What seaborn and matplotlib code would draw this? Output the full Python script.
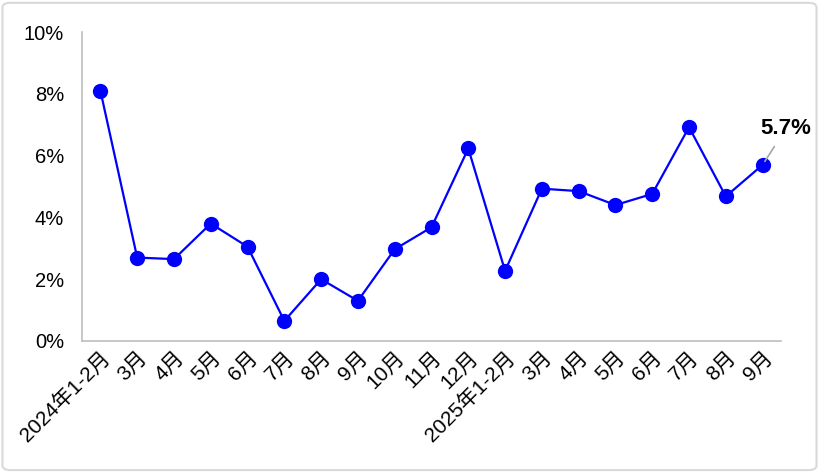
import numpy as np
import pandas as pd
import seaborn as sns
import matplotlib.pyplot as plt
from matplotlib.patches import FancyBboxPatch

months = ["2024年1-2月", "3月", "4月", "5月", "6月", "7月", "8月", "9月", "10月", "11月", "12月",
          "2025年1-2月", "3月", "4月", "5月", "6月", "7月", "8月", "9月"]
growth = [8.1, 2.7, 2.65, 3.8, 3.05, 0.65, 2.0, 1.3, 2.97, 3.68, 6.23,
          2.27, 4.93, 4.85, 4.4, 4.76, 6.92, 4.68, 5.7]
y_ticks = [0, 2, 4, 6, 8, 10]

sns.set_style("white")
plt.rcParams['font.family'] = ['Liberation Sans', 'Noto Sans CJK SC', 'DejaVu Sans']
plt.rcParams['text.color'] = 'black'
plt.rcParams['xtick.color'] = 'black'
plt.rcParams['ytick.color'] = 'black'

df = pd.DataFrame({"idx": np.arange(len(months)), "growth": growth})

fig = plt.figure(figsize=(8.19, 4.72), dpi=100)
ax = fig.add_axes([82 / 819, 1 - 341 / 472, (781 - 82) / 819, (341 - 32) / 472])

sns.lineplot(data=df, x="idx", y="growth", ax=ax, color="#0000FF", linewidth=1.6,
             marker="o", markersize=11, markeredgewidth=0)

ax.set_xlim(-0.5, len(months) - 0.5)
ax.set_ylim(0, 10)
ax.set_yticks(y_ticks)
ax.set_yticklabels([f"{t}%" for t in y_ticks], fontsize=14.5)
ax.set_xticks(np.arange(len(months)))
ax.set_xticklabels(months, fontsize=15, rotation=45, ha="right", rotation_mode="anchor")
ax.set_xticks(np.arange(len(months) + 1) - 0.5, minor=True)
ax.tick_params(axis="x", which="major", length=0, pad=5)
ax.tick_params(axis="x", which="minor", length=5, color="#BFBFBF", width=1.2)
ax.tick_params(axis="y", length=5, color="#BFBFBF", labelcolor="black", width=1.2, pad=8)
ax.tick_params(axis="x", labelcolor="black")
ax.set_xlabel("")
ax.set_ylabel("")

for side in ["top", "right"]:
    ax.spines[side].set_visible(False)
for side in ["left", "bottom"]:
    ax.spines[side].set_color("#BFBFBF")
    ax.spines[side].set_linewidth(1.2)

last = len(months) - 1
ax.annotate(f"{growth[-1]}%", xy=(last, growth[-1]), xytext=(last - 0.05, 6.55),
            fontsize=16, fontweight="bold", ha="left", va="bottom", color="black",
            arrowprops=dict(arrowstyle="-", color="#A6A6A6", lw=1.2, shrinkA=4, shrinkB=3))

fig.patches.append(FancyBboxPatch((0.003, 0.004), 0.994, 0.99, boxstyle="round,pad=0,rounding_size=0.01",
                                  transform=fig.transFigure, fill=False, edgecolor="#D9D9D9", linewidth=1.5))

fig.savefig("out.png", dpi=100)
